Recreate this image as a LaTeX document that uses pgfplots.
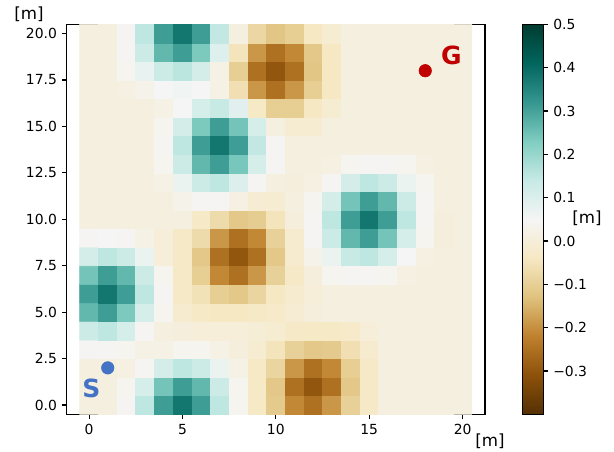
\documentclass[border=0pt]{standalone}
\usepackage{fontspec}
\setmainfont{DejaVu Sans}
\usepackage{pgfplots}
\pgfplotsset{compat=1.18}
\definecolor{sblue}{RGB}{68,114,196}
\definecolor{gred}{RGB}{192,0,0}
\pgfplotsset{/pgf/number format/assume math mode=true}
\begin{document}
\begin{tikzpicture}
\path[use as bounding box] (-48.0pt,-27.14pt) rectangle (394.08pt,298.3pt);
\begin{axis}[
  at={(0,0)}, anchor=south west,
  scale only axis, width=301.2pt, height=280.8pt,
  xmin=-1.2, xmax=21.2, ymin=-0.5, ymax=20.5,
  clip=false,
  axis line style={line width=0.8pt},
  tick style={line width=0.8pt, black},
  tick align=outside, tick pos=left,
  major tick length=3.5pt,
  xtick={0,5,10,15,20},
  ytick={0,2.5,5,7.5,10,12.5,15,17.5,20},
  yticklabel style={/pgf/number format/.cd, fixed, fixed zerofill, precision=1},
  ticklabel style={font=\fontsize{10}{12}\selectfont},
  colormap={BrBG}{rgb255=(84,48,5) rgb255=(140,81,10) rgb255=(191,129,45) rgb255=(223,194,125) rgb255=(246,232,195) rgb255=(245,245,245) rgb255=(199,234,229) rgb255=(128,205,193) rgb255=(53,151,143) rgb255=(1,102,94) rgb255=(0,60,48)},
  point meta min=-0.4, point meta max=0.5,
  colorbar right,
  colorbar style={
    at={(parent axis.north east)}, anchor=north west, xshift=18.7pt,
    width=14.9pt,
    axis line style={line width=0.8pt},
    tick style={line width=0.8pt, black},
    tick align=outside, ytick pos=right, yticklabel pos=right,
    major tick length=3.5pt,
    ytick={-0.3,-0.2,-0.1,0,0.1,0.2,0.3,0.4,0.5},
    yticklabels={−0.3,−0.2,−0.1,0.0,0.1,0.2,0.3,0.4,0.5},
    yticklabel style={font=\fontsize{10}{12}\selectfont},
  },
]
\addplot[matrix plot*, mesh/cols=21, point meta=explicit] table[x=x, y=y, meta=z, row sep=\\] {
x y z\\
0 0 0.01\\ 1 0 0.01\\ 2 0 0.045\\ 3 0 0.15\\ 4 0 0.31\\ 5 0 0.38\\ 6 0 0.31\\ 7 0 0.15\\ 8 0 0.04\\ 9 0 -0.035\\ 10 0 -0.11\\ 11 0 -0.21\\ 12 0 -0.25\\ 13 0 -0.19\\ 14 0 -0.095\\ 15 0 -0.03\\ 16 0 0.01\\ 17 0 0.01\\ 18 0 0.01\\ 19 0 0.01\\ 20 0 0.01\\
0 1 0.01\\ 1 1 0.01\\ 2 1 0.04\\ 3 1 0.11\\ 4 1 0.245\\ 5 1 0.31\\ 6 1 0.265\\ 7 1 0.13\\ 8 1 0.04\\ 9 1 -0.035\\ 10 1 -0.115\\ 11 1 -0.25\\ 12 1 -0.30\\ 13 1 -0.25\\ 14 1 -0.115\\ 15 1 -0.03\\ 16 1 0.01\\ 17 1 0.01\\ 18 1 0.01\\ 19 1 0.01\\ 20 1 0.01\\
0 2 0.01\\ 1 2 0.01\\ 2 2 0.015\\ 3 2 0.045\\ 4 2 0.115\\ 5 2 0.15\\ 6 2 0.13\\ 7 2 0.07\\ 8 2 0.02\\ 9 2 -0.035\\ 10 2 -0.085\\ 11 2 -0.19\\ 12 2 -0.25\\ 13 2 -0.21\\ 14 2 -0.10\\ 15 2 -0.03\\ 16 2 0.01\\ 17 2 0.01\\ 18 2 0.01\\ 19 2 0.01\\ 20 2 0.01\\
0 3 0.045\\ 1 3 0.045\\ 2 3 0.04\\ 3 3 0.02\\ 4 3 0.02\\ 5 3 0.04\\ 6 3 0.04\\ 7 3 0.02\\ 8 3 0.005\\ 9 3 -0.015\\ 10 3 -0.05\\ 11 3 -0.095\\ 12 3 -0.115\\ 13 3 -0.11\\ 14 3 -0.06\\ 15 3 -0.02\\ 16 3 0.01\\ 17 3 0.01\\ 18 3 0.01\\ 19 3 0.01\\ 20 3 0.01\\
0 4 0.13\\ 1 4 0.15\\ 2 4 0.11\\ 3 4 0.045\\ 4 4 0.01\\ 5 4 0.005\\ 6 4 0.0\\ 7 4 0.0\\ 8 4 0.0\\ 9 4 -0.005\\ 10 4 -0.015\\ 11 4 -0.03\\ 12 4 -0.035\\ 13 4 -0.035\\ 14 4 -0.025\\ 15 4 0.0\\ 16 4 0.01\\ 17 4 0.01\\ 18 4 0.01\\ 19 4 0.01\\ 20 4 0.01\\
0 5 0.265\\ 1 5 0.31\\ 2 5 0.235\\ 3 5 0.11\\ 4 5 0.04\\ 5 5 -0.02\\ 6 5 -0.035\\ 7 5 -0.04\\ 8 5 -0.04\\ 9 5 -0.035\\ 10 5 -0.025\\ 11 5 -0.01\\ 12 5 0.005\\ 13 5 0.01\\ 14 5 0.01\\ 15 5 0.01\\ 16 5 0.01\\ 17 5 0.01\\ 18 5 0.01\\ 19 5 0.01\\ 20 5 0.01\\
0 6 0.31\\ 1 6 0.38\\ 2 6 0.31\\ 3 6 0.15\\ 4 6 0.045\\ 5 6 -0.03\\ 6 6 -0.055\\ 7 6 -0.10\\ 8 6 -0.115\\ 9 6 -0.085\\ 10 6 -0.04\\ 11 6 -0.02\\ 12 6 0.0\\ 13 6 0.01\\ 14 6 0.01\\ 15 6 0.01\\ 16 6 0.01\\ 17 6 0.01\\ 18 6 0.01\\ 19 6 0.01\\ 20 6 0.01\\
0 7 0.245\\ 1 7 0.31\\ 2 7 0.265\\ 3 7 0.13\\ 4 7 0.04\\ 5 7 -0.03\\ 6 7 -0.10\\ 7 7 -0.21\\ 8 7 -0.25\\ 9 7 -0.19\\ 10 7 -0.095\\ 11 7 -0.03\\ 12 7 0.005\\ 13 7 0.04\\ 14 7 0.045\\ 15 7 0.045\\ 16 7 0.04\\ 17 7 0.015\\ 18 7 0.01\\ 19 7 0.01\\ 20 7 0.01\\
0 8 0.115\\ 1 8 0.15\\ 2 8 0.13\\ 3 8 0.07\\ 4 8 0.0\\ 5 8 -0.03\\ 6 8 -0.115\\ 7 8 -0.25\\ 8 8 -0.30\\ 9 8 -0.25\\ 10 8 -0.115\\ 11 8 -0.02\\ 12 8 0.03\\ 13 8 0.07\\ 14 8 0.14\\ 15 8 0.15\\ 16 8 0.11\\ 17 8 0.05\\ 18 8 0.015\\ 19 8 0.01\\ 20 8 0.01\\
0 9 0.045\\ 1 9 0.05\\ 2 9 0.045\\ 3 9 0.02\\ 4 9 0.0\\ 5 9 -0.03\\ 6 9 -0.07\\ 7 9 -0.19\\ 8 9 -0.25\\ 9 9 -0.21\\ 10 9 -0.095\\ 11 9 -0.02\\ 12 9 0.045\\ 13 9 0.13\\ 14 9 0.265\\ 15 9 0.31\\ 16 9 0.245\\ 17 9 0.11\\ 18 9 0.04\\ 19 9 0.005\\ 20 9 0.01\\
0 10 0.01\\ 1 10 0.01\\ 2 10 0.01\\ 3 10 0.01\\ 4 10 0.01\\ 5 10 0.01\\ 6 10 -0.03\\ 7 10 -0.07\\ 8 10 -0.115\\ 9 10 -0.105\\ 10 10 -0.05\\ 11 10 0.005\\ 12 10 0.045\\ 13 10 0.15\\ 14 10 0.31\\ 15 10 0.38\\ 16 10 0.31\\ 17 10 0.15\\ 18 10 0.045\\ 19 10 0.005\\ 20 10 0.01\\
0 11 0.01\\ 1 11 0.01\\ 2 11 0.01\\ 3 11 0.01\\ 4 11 0.01\\ 5 11 0.03\\ 6 11 0.045\\ 7 11 0.045\\ 8 11 0.015\\ 9 11 -0.01\\ 10 11 -0.015\\ 11 11 0.01\\ 12 11 0.04\\ 13 11 0.115\\ 14 11 0.245\\ 15 11 0.31\\ 16 11 0.265\\ 17 11 0.13\\ 18 11 0.045\\ 19 11 0.01\\ 20 11 0.01\\
0 12 0.01\\ 1 12 0.01\\ 2 12 0.01\\ 3 12 0.01\\ 4 12 0.02\\ 5 12 0.07\\ 6 12 0.13\\ 7 12 0.15\\ 8 12 0.10\\ 9 12 0.045\\ 10 12 0.01\\ 11 12 0.005\\ 12 12 0.015\\ 13 12 0.045\\ 14 12 0.115\\ 15 12 0.15\\ 16 12 0.13\\ 17 12 0.07\\ 18 12 0.04\\ 19 12 0.01\\ 20 12 0.01\\
0 13 0.01\\ 1 13 0.01\\ 2 13 0.01\\ 3 13 0.01\\ 4 13 0.04\\ 5 13 0.13\\ 6 13 0.265\\ 7 13 0.31\\ 8 13 0.24\\ 9 13 0.11\\ 10 13 0.045\\ 11 13 0.01\\ 12 13 0.01\\ 13 13 0.015\\ 14 13 0.04\\ 15 13 0.045\\ 16 13 0.045\\ 17 13 0.04\\ 18 13 0.015\\ 19 13 0.01\\ 20 13 0.01\\
0 14 0.01\\ 1 14 0.01\\ 2 14 0.01\\ 3 14 0.01\\ 4 14 0.045\\ 5 14 0.15\\ 6 14 0.31\\ 7 14 0.38\\ 8 14 0.31\\ 9 14 0.145\\ 10 14 0.045\\ 11 14 0.01\\ 12 14 0.01\\ 13 14 0.01\\ 14 14 0.01\\ 15 14 0.01\\ 16 14 0.01\\ 17 14 0.01\\ 18 14 0.01\\ 19 14 0.01\\ 20 14 0.01\\
0 15 0.01\\ 1 15 0.01\\ 2 15 0.01\\ 3 15 0.01\\ 4 15 0.04\\ 5 15 0.115\\ 6 15 0.235\\ 7 15 0.31\\ 8 15 0.245\\ 9 15 0.11\\ 10 15 0.01\\ 11 15 -0.015\\ 12 15 -0.015\\ 13 15 0.01\\ 14 15 0.01\\ 15 15 0.01\\ 16 15 0.01\\ 17 15 0.01\\ 18 15 0.01\\ 19 15 0.01\\ 20 15 0.01\\
0 16 0.01\\ 1 16 0.01\\ 2 16 0.01\\ 3 16 0.01\\ 4 16 0.02\\ 5 16 0.05\\ 6 16 0.11\\ 7 16 0.14\\ 8 16 0.09\\ 9 16 -0.035\\ 10 16 -0.10\\ 11 16 -0.10\\ 12 16 -0.04\\ 13 16 -0.015\\ 14 16 0.01\\ 15 16 0.01\\ 16 16 0.01\\ 17 16 0.01\\ 18 16 0.01\\ 19 16 0.01\\ 20 16 0.01\\
0 17 0.01\\ 1 17 0.01\\ 2 17 0.015\\ 3 17 0.03\\ 4 17 0.05\\ 5 17 0.06\\ 6 17 0.05\\ 7 17 0.02\\ 8 17 -0.06\\ 9 17 -0.19\\ 10 17 -0.25\\ 11 17 -0.19\\ 12 17 -0.10\\ 13 17 -0.04\\ 14 17 0.01\\ 15 17 0.01\\ 16 17 0.01\\ 17 17 0.01\\ 18 17 0.01\\ 19 17 0.01\\ 20 17 0.01\\
0 18 0.01\\ 1 18 0.01\\ 2 18 0.04\\ 3 18 0.075\\ 4 18 0.13\\ 5 18 0.155\\ 6 18 0.115\\ 7 18 0.02\\ 8 18 -0.10\\ 9 18 -0.25\\ 10 18 -0.30\\ 11 18 -0.25\\ 12 18 -0.12\\ 13 18 -0.04\\ 14 18 0.01\\ 15 18 0.01\\ 16 18 0.01\\ 17 18 0.01\\ 18 18 0.01\\ 19 18 0.01\\ 20 18 0.01\\
0 19 0.01\\ 1 19 0.01\\ 2 19 0.045\\ 3 19 0.13\\ 4 19 0.265\\ 5 19 0.31\\ 6 19 0.235\\ 7 19 0.095\\ 8 19 -0.05\\ 9 19 -0.19\\ 10 19 -0.25\\ 11 19 -0.21\\ 12 19 -0.115\\ 13 19 -0.04\\ 14 19 0.01\\ 15 19 0.01\\ 16 19 0.01\\ 17 19 0.01\\ 18 19 0.01\\ 19 19 0.01\\ 20 19 0.01\\
0 20 0.01\\ 1 20 0.01\\ 2 20 0.045\\ 3 20 0.15\\ 4 20 0.31\\ 5 20 0.38\\ 6 20 0.31\\ 7 20 0.145\\ 8 20 0.01\\ 9 20 -0.08\\ 10 20 -0.12\\ 11 20 -0.10\\ 12 20 -0.04\\ 13 20 -0.015\\ 14 20 0.01\\ 15 20 0.01\\ 16 20 0.01\\ 17 20 0.01\\ 18 20 0.01\\ 19 20 0.01\\ 20 20 0.01\\
};
\addplot[only marks, mark=*, mark size=4.5pt, color=sblue, mark options={draw=sblue, fill=sblue}] coordinates {(1,2)};
\addplot[only marks, mark=*, mark size=4.5pt, color=gred, mark options={draw=gred, fill=gred}] coordinates {(18,18)};
\node[font=\fontsize{18}{20}\selectfont\bfseries, text=sblue] at (axis cs:0.12,0.91) {S};
\node[font=\fontsize{18}{20}\selectfont\bfseries, text=gred] at (axis cs:19.4,18.83) {G};
\end{axis}
\node[font=\fontsize{12}{14}\selectfont] at (-27.1pt,288.2pt) {[m]};
\node[font=\fontsize{12}{14}\selectfont] at (304.8pt,-19.2pt) {[m]};
\node[font=\fontsize{12}{14}\selectfont] at (374.6pt,141.3pt) {[m]};
\end{tikzpicture}
\end{document}
